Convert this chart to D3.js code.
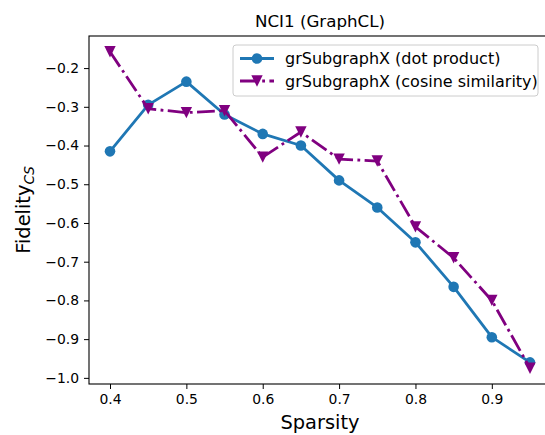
<!DOCTYPE html>
<html>
<head>
<meta charset="utf-8">
<script src="https://cdn.jsdelivr.net/npm/d3@7"></script>
<style>
  html, body { margin: 0; padding: 0; background: #fff; }
  svg { display: block; font-family: "DejaVu Sans", sans-serif; }
</style>
</head>
<body>
<svg id="chart" width="545" height="435"></svg>
<script>
// Sparsity levels on the x axis
const sparsity = [0.4, 0.45, 0.5, 0.55, 0.6, 0.65, 0.7, 0.75, 0.8, 0.85, 0.9, 0.95];
// Fidelity_CS for each scoring variant
const dotProduct = [-0.415, -0.295, -0.235, -0.32, -0.37, -0.40, -0.49, -0.56, -0.65, -0.765, -0.895, -0.96];
const cosineSim = [-0.158, -0.305, -0.315, -0.31, -0.43, -0.365, -0.435, -0.44, -0.61, -0.69, -0.80, -0.975];
const seriesNames = ["grSubgraphX (dot product)", "grSubgraphX (cosine similarity)"];
const xTicks = [0.4, 0.5, 0.6, 0.7, 0.8, 0.9];
const yTicks = [-0.2, -0.3, -0.4, -0.5, -0.6, -0.7, -0.8, -0.9, -1.0];

const svg = d3.select("#chart");
const M = { left: 89, right: 551, top: 36, bottom: 384 };

// matplotlib-style 5% padding around the data range
function padded(vals) {
  const lo = d3.min(vals), hi = d3.max(vals), r = hi - lo;
  return [lo - 0.05 * r, hi + 0.05 * r];
}
const x = d3.scaleLinear().domain(padded(sparsity)).range([M.left, M.right]);
const y = d3.scaleLinear().domain(padded(dotProduct.concat(cosineSim))).range([M.bottom, M.top]);

const fmt = d => d.toFixed(1).replace("-", "\u2212");

// Axes
const xAxis = svg.append("g")
  .attr("transform", `translate(0,${M.bottom})`)
  .call(d3.axisBottom(x).tickValues(xTicks).tickSize(5).tickPadding(5).tickFormat(fmt));
const yAxis = svg.append("g")
  .attr("transform", `translate(${M.left},0)`)
  .call(d3.axisLeft(y).tickValues(yTicks).tickSize(5).tickPadding(5).tickFormat(fmt));
[xAxis, yAxis].forEach(a => {
  a.select(".domain").remove();
  a.selectAll("line").attr("stroke", "#000").attr("stroke-width", 1);
  a.selectAll("text").attr("fill", "#000").style("font-size", "13.9px").style("font-family", "DejaVu Sans");
});

// Frame
svg.append("rect")
  .attr("x", M.left).attr("y", M.top)
  .attr("width", M.right - M.left).attr("height", M.bottom - M.top)
  .attr("fill", "none").attr("stroke", "#000").attr("stroke-width", 1.1);

// Series
const blue = "#1f77b4", purple = "#800080";
const line = d3.line().x((d, i) => x(sparsity[i])).y(d => y(d));

svg.append("path").datum(dotProduct)
  .attr("d", line).attr("fill", "none")
  .attr("stroke", blue).attr("stroke-width", 2.8).attr("stroke-linejoin", "round");
svg.append("g").selectAll("circle").data(dotProduct).join("circle")
  .attr("cx", (d, i) => x(sparsity[i])).attr("cy", d => y(d))
  .attr("r", 5.3).attr("fill", blue);

const dashDot = "17.8,4.4,2.8,4.4";
svg.append("path").datum(cosineSim)
  .attr("d", line).attr("fill", "none")
  .attr("stroke", purple).attr("stroke-width", 2.8).attr("stroke-dasharray", dashDot);

const tri = s => `M${-s},${-s}L${s},${-s}L0,${s}Z`;
svg.append("g").selectAll("path").data(cosineSim).join("path")
  .attr("transform", (d, i) => `translate(${x(sparsity[i])},${y(d)})`)
  .attr("d", tri(5.7)).attr("fill", purple);

// Title and axis labels
svg.append("text")
  .attr("x", (M.left + M.right) / 2).attr("y", 27)
  .attr("text-anchor", "middle").style("font-size", "16.7px").text("NCI1 (GraphCL)");
svg.append("text")
  .attr("x", (M.left + M.right) / 2).attr("y", 429)
  .attr("text-anchor", "middle").style("font-size", "19.4px").text("Sparsity");
const yl = svg.append("text")
  .attr("transform", `translate(30,${(M.top + M.bottom) / 2}) rotate(-90)`)
  .attr("text-anchor", "middle").style("font-size", "19.4px");
yl.append("tspan").text("Fidelity");
yl.append("tspan").attr("dy", 4).style("font-size", "13.6px").style("font-style", "italic").text("CS");

// Legend
const lg = svg.append("g").attr("transform", "translate(233,45)");
lg.append("rect").attr("width", 305).attr("height", 51).attr("rx", 3)
  .attr("fill", "#fff").attr("fill-opacity", 0.8).attr("stroke", "#ccc").attr("stroke-width", 1);
const entries = [
  { name: seriesNames[0], color: blue, dash: null, marker: "circle" },
  { name: seriesNames[1], color: purple, dash: dashDot, marker: "tri" }
];
entries.forEach((e, i) => {
  const cy = 13.5 + i * 22.5;
  lg.append("line").attr("x1", 7).attr("x2", 41).attr("y1", cy).attr("y2", cy)
    .attr("stroke", e.color).attr("stroke-width", 2.8)
    .attr("stroke-dasharray", e.dash);
  if (e.marker === "circle") {
    lg.append("circle").attr("cx", 24).attr("cy", cy).attr("r", 5.3).attr("fill", e.color);
  } else {
    lg.append("path").attr("transform", `translate(24,${cy})`).attr("d", tri(5.7)).attr("fill", e.color);
  }
  lg.append("text").attr("x", 52).attr("y", cy + 5.8).style("font-size", "16px").text(e.name);
});
</script>
</body>
</html>
